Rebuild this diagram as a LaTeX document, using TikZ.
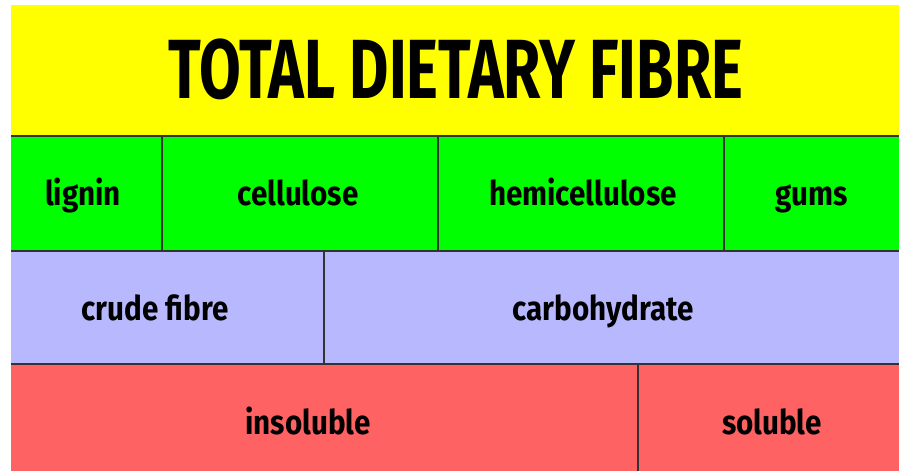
\documentclass[tikz,border=0pt]{standalone}
\usepackage{fontspec}
\usepackage{xcolor}
\usepackage{tikz}
\newfontfamily\fibrefont{Fira Sans}[FakeStretch=0.87]
\newfontfamily\fibretitlefont{Fira Sans}[FakeStretch=0.72]
\definecolor{fibreyellow}{RGB}{255,255,0}
\definecolor{fibregreen}{RGB}{0,255,0}
\definecolor{fibreblue}{RGB}{184,184,255}
\definecolor{fibrered}{RGB}{255,98,98}
\tikzset{
  fibrecell/.style={
    rectangle,
    anchor=north west,
    inner sep=0pt,
    outer sep=0pt
  },
  fibrelabel/.style={
    anchor=base,
    inner sep=0pt,
    font=\fibrefont\bfseries\fontsize{25.5}{30}\selectfont
  },
  fibretitle/.style={
    anchor=base,
    inner sep=0pt,
    font=\fibretitlefont\bfseries\fontsize{63}{70}\selectfont
  },
  fibreline/.style={
    draw=black!80,
    line width=0.8pt
  }
}

\begin{document}
\begin{tikzpicture}[x=0.75pt, y=-0.75pt]
\useasboundingbox (0,0) rectangle (899,471);

% rows of cells
\node[fibrecell, fill=fibreyellow, minimum width=888*0.75pt, minimum height=131*0.75pt] (totalcell) at (11,5) {};
\node[fibrecell, fill=fibregreen, minimum width=151*0.75pt, minimum height=115*0.75pt] (lignincell) at (11,136) {};
\node[fibrecell, fill=fibregreen, minimum width=276*0.75pt, minimum height=115*0.75pt] (cellulosecell) at (162,136) {};
\node[fibrecell, fill=fibregreen, minimum width=286*0.75pt, minimum height=115*0.75pt] (hemicell) at (438,136) {};
\node[fibrecell, fill=fibregreen, minimum width=175*0.75pt, minimum height=115*0.75pt] (gumscell) at (724,136) {};
\node[fibrecell, fill=fibreblue, minimum width=313*0.75pt, minimum height=113*0.75pt] (crudecell) at (11,251) {};
\node[fibrecell, fill=fibreblue, minimum width=575*0.75pt, minimum height=113*0.75pt] (carbocell) at (324,251) {};
\node[fibrecell, fill=fibrered, minimum width=627*0.75pt, minimum height=107*0.75pt] (insolcell) at (11,364) {};
\node[fibrecell, fill=fibrered, minimum width=261*0.75pt, minimum height=107*0.75pt] (solcell) at (638,364) {};

% texts
\node[fibretitle] (total) at (456,98) {TOTAL DIETARY FIBRE};
\node[fibrelabel] (lignin) at (83,205) {lignin};
\node[fibrelabel] (cellulose) at (298,205) {cellulose};
\node[fibrelabel] (hemi) at (583,205) {hemicellulose};
\node[fibrelabel] (gums) at (812,205) {gums};
\node[fibrelabel] (crude) at (155,320) {crude fibre};
\node[fibrelabel] (carbo) at (603,320) {carbohydrate};
\node[fibrelabel] (insol) at (308,434) {insoluble};
\node[fibrelabel] (sol) at (772,434) {soluble};

% dividing lines
\draw[fibreline] (lignincell.north west) -- (gumscell.north east);
\draw[fibreline] (crudecell.north west) -- (carbocell.north east);
\draw[fibreline] (insolcell.north west) -- (solcell.north east);
\draw[fibreline] (lignincell.north east) -- (lignincell.south east);
\draw[fibreline] (cellulosecell.north east) -- (cellulosecell.south east);
\draw[fibreline] (hemicell.north east) -- (hemicell.south east);
\draw[fibreline] (crudecell.north east) -- (crudecell.south east);
\draw[fibreline] (insolcell.north east) -- (insolcell.south east);
\end{tikzpicture}
\end{document}
